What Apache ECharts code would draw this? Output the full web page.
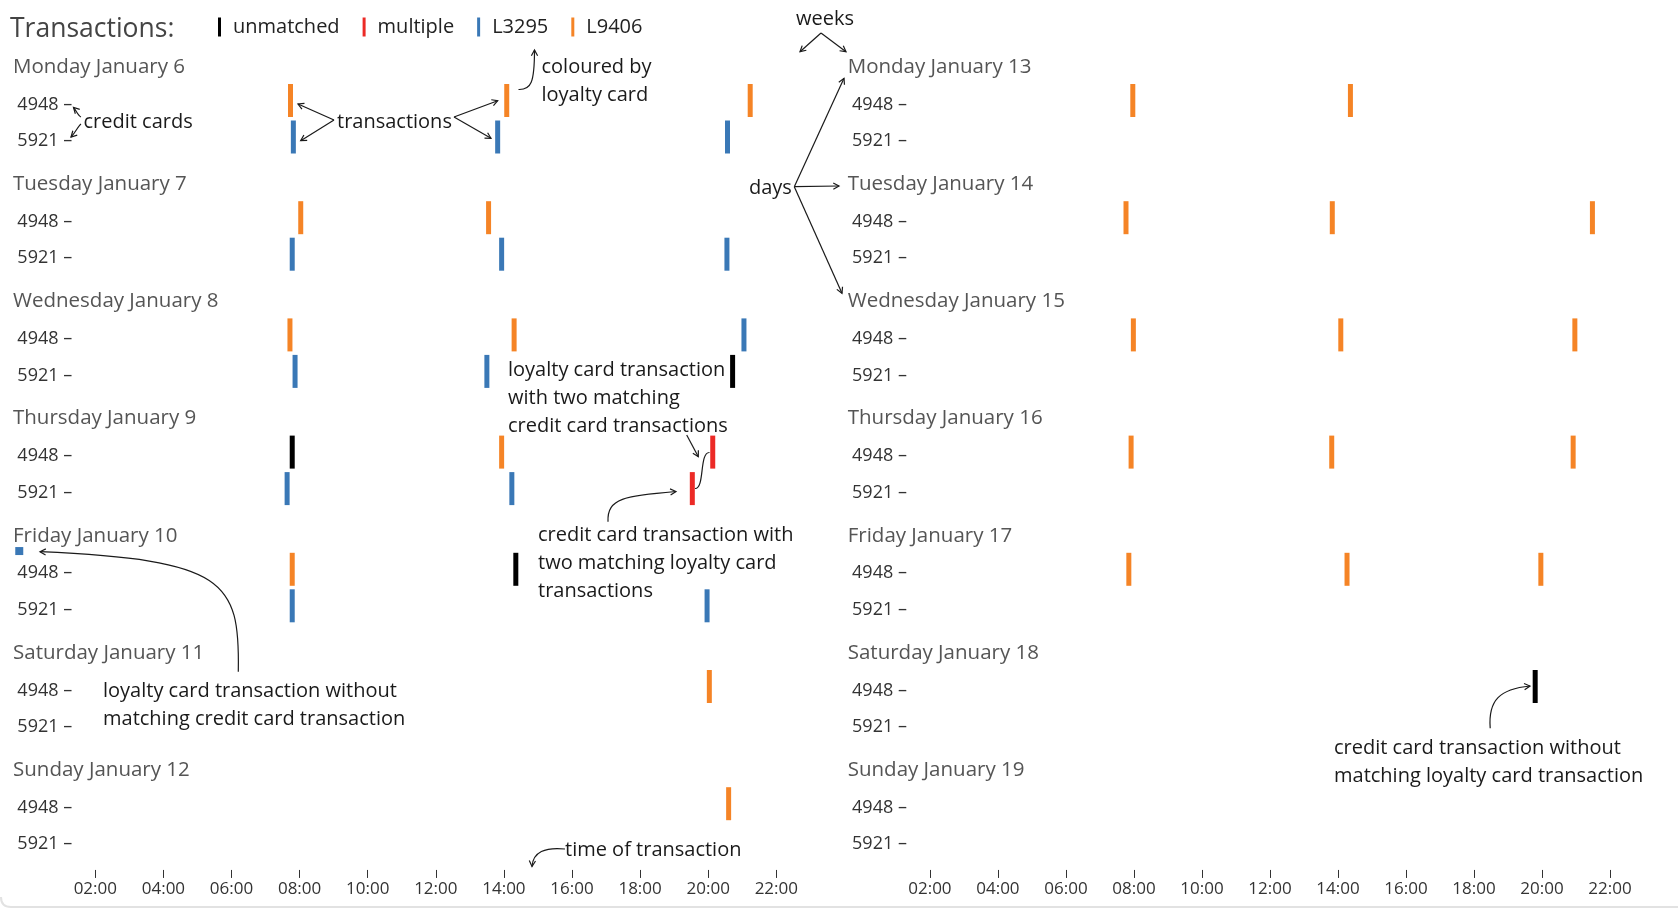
<!DOCTYPE html>
<html>
<head>
<meta charset="utf-8">
<script src="https://cdn.jsdelivr.net/npm/echarts@6/dist/echarts.min.js"></script>
<style>
  html, body { margin: 0; padding: 0; background: #ffffff; }
  #chart { width: 1678px; height: 910px; }
</style>
</head>
<body>
<div id="chart"></div>
<script>
// ---------------- data ----------------
const weekDays = [
  'Monday January 6', 'Tuesday January 7', 'Wednesday January 8', 'Thursday January 9',
  'Friday January 10', 'Saturday January 11', 'Sunday January 12',
  'Monday January 13', 'Tuesday January 14', 'Wednesday January 15', 'Thursday January 16',
  'Friday January 17', 'Saturday January 18', 'Sunday January 19'
];
const creditCards = ['4948', '5921'];
const timeTicks = ['02:00', '04:00', '06:00', '08:00', '10:00', '12:00', '14:00', '16:00', '18:00', '20:00', '22:00'];
const legendNames = ['unmatched', 'multiple', 'L3295', 'L9406'];

// credit card transactions matched with loyalty card L9406: [day, credit card, time]
const txL9406 = [
  ['Monday January 6', '4948', '07:44'], ['Monday January 6', '4948', '14:05'], ['Monday January 6', '4948', '21:14'],
  ['Tuesday January 7', '4948', '08:02'], ['Tuesday January 7', '4948', '13:33'],
  ['Wednesday January 8', '4948', '07:43'], ['Wednesday January 8', '4948', '14:18'],
  ['Thursday January 9', '4948', '13:56'],
  ['Friday January 10', '4948', '07:47'],
  ['Saturday January 11', '4948', '20:02'],
  ['Sunday January 12', '4948', '20:36'],
  ['Monday January 13', '4948', '07:58'], ['Monday January 13', '4948', '14:22'],
  ['Tuesday January 14', '4948', '07:46'], ['Tuesday January 14', '4948', '13:50'], ['Tuesday January 14', '4948', '21:29'],
  ['Wednesday January 15', '4948', '07:59'], ['Wednesday January 15', '4948', '14:05'], ['Wednesday January 15', '4948', '20:58'],
  ['Thursday January 16', '4948', '07:55'], ['Thursday January 16', '4948', '13:49'], ['Thursday January 16', '4948', '20:55'],
  ['Friday January 17', '4948', '07:51'], ['Friday January 17', '4948', '14:16'], ['Friday January 17', '4948', '19:58']
];
// credit card transactions matched with loyalty card L3295
const txL3295 = [
  ['Monday January 6', '5921', '07:49'], ['Monday January 6', '5921', '13:49'], ['Monday January 6', '5921', '20:34'],
  ['Tuesday January 7', '5921', '07:47'], ['Tuesday January 7', '5921', '13:56'], ['Tuesday January 7', '5921', '20:33'],
  ['Wednesday January 8', '4948', '21:03'], ['Wednesday January 8', '5921', '07:52'], ['Wednesday January 8', '5921', '13:30'],
  ['Thursday January 9', '5921', '07:38'], ['Thursday January 9', '5921', '14:14'],
  ['Friday January 10', '5921', '07:47'], ['Friday January 10', '5921', '19:58']
];
// credit card transactions without a loyalty card match
const txUnmatched = [
  ['Wednesday January 8', '5921', '20:43'], ['Thursday January 9', '4948', '07:47'],
  ['Friday January 10', '4948', '14:21'], ['Saturday January 18', '4948', '19:48']
];
// credit card transactions with multiple loyalty matches
const txMultiple = [
  ['Thursday January 9', '4948', '20:08'], ['Thursday January 9', '5921', '19:32']
];
// loyalty card transactions without a credit card match: [day, loyalty card, position on time axis]
const loyaltyOnly = [
  ['Friday January 10', 'L3295', '-00:14']
];

// ---------------- layout & style ----------------
const FONT = '"Open Sans", "Liberation Sans", sans-serif';
const ROW0 = 65, DAY_H = 117.2, PX_PER_H = 34.05;
const WEEK_LEFT = [27.2, 861.9];
const LABEL_SHIFT = 4;      // row labels sit slightly below the mark centres
const INK = '#1a1a1a';
const COLORS = { unmatched: '#000000', multiple: '#ec2a26', L3295: '#3a78b6', L9406: '#f58426' };

function toHours(s) {
  const neg = s.charAt(0) === '-';
  const [h, m] = s.replace('-', '').split(':').map(Number);
  return (neg ? -1 : 1) * (h + m / 60);
}
const tickHours = timeTicks.map(toHours);

const grids = [], xAxes = [], yAxes = [], series = [], graphics = [];

weekDays.forEach((day, i) => {
  const w = Math.floor(i / 7), d = i % 7;
  const hy = ROW0 + DAY_H * d;
  grids.push({ left: WEEK_LEFT[w], top: hy + 17.25 + LABEL_SHIFT, width: 24 * PX_PER_H, height: 73 });
  xAxes.push({
    type: 'value', gridIndex: i, min: 0, max: 24, interval: 2, position: 'bottom',
    show: d === 6, offset: 11.5 - LABEL_SHIFT,
    axisLine: { show: true, onZero: false, lineStyle: { color: 'rgba(0,0,0,0)', width: 0 } },
    splitLine: { show: false },
    axisTick: { show: true, inside: false, length: 8, customValues: tickHours, lineStyle: { color: '#333', width: 1 } },
    axisLabel: {
      customValues: tickHours, margin: 11, fontSize: 17, color: '#333', fontFamily: FONT,
      formatter: v => { const k = tickHours.indexOf(v); return k >= 0 ? timeTicks[k] : ''; }
    }
  });
  yAxes.push({
    type: 'value', gridIndex: i, min: -0.5, max: 1.5, interval: 0.5, inverse: true,
    axisLine: { show: false, onZero: false }, axisTick: { show: false }, splitLine: { show: false },
    axisLabel: {
      margin: -45, fontSize: 18, color: '#333', fontFamily: FONT, padding: [14, 0, 0, 0],
      formatter: v => (Number.isInteger(v) && creditCards[v]) ? creditCards[v] + ' \u2013' : ''
    }
  });
  graphics.push({
    type: 'text', x: WEEK_LEFT[w] - 14.2, y: hy + 2, silent: true,
    style: { text: day, font: '20.5px ' + FONT, fill: '#555', verticalAlign: 'middle', align: 'left' }
  });
});

const groups = [
  { name: 'unmatched', rows: txUnmatched },
  { name: 'multiple', rows: txMultiple },
  { name: 'L3295', rows: txL3295 },
  { name: 'L9406', rows: txL9406 }
];
groups.forEach(g => {
  weekDays.forEach((day, i) => {
    const pts = g.rows.filter(r => r[0] === day).map(r => [toHours(r[2]), creditCards.indexOf(r[1])]);
    if (!pts.length) return;
    series.push({
      type: 'scatter', name: g.name, xAxisIndex: i, yAxisIndex: i, data: pts,
      symbol: 'rect', symbolSize: [5, 33], symbolOffset: [0, -LABEL_SHIFT],
      itemStyle: { color: COLORS[g.name], opacity: 1 },
      emphasis: { disabled: true }
    });
  });
});
weekDays.forEach((day, i) => {
  const pts = loyaltyOnly.filter(r => r[0] === day).map(r => [toHours(r[2]), -0.5]);
  if (!pts.length) return;
  const card = loyaltyOnly.find(r => r[0] === day)[1];
  series.push({
    type: 'scatter', name: card, xAxisIndex: i, yAxisIndex: i, data: pts, clip: false,
    symbol: 'rect', symbolSize: [8, 8], symbolOffset: [0, -LABEL_SHIFT],
    itemStyle: { color: COLORS[card], opacity: 1 },
    emphasis: { disabled: true }
  });
});

// ---------------- annotations ----------------
function note(x, yFirst, lines) {
  return {
    type: 'text', x: x, y: yFirst - 14 + 1.5, silent: true,
    style: { text: lines.join('\n'), font: '20px ' + FONT, fill: INK, lineHeight: 28, verticalAlign: 'top', align: 'left' }
  };
}
function head(tx, ty, fx, fy) {
  const a = Math.atan2(ty - fy, tx - fx), s = 6.5, sp = 0.5;
  return {
    type: 'polyline', silent: true,
    shape: { points: [[tx - s * Math.cos(a - sp), ty - s * Math.sin(a - sp)], [tx, ty], [tx - s * Math.cos(a + sp), ty - s * Math.sin(a + sp)]] },
    style: { stroke: INK, lineWidth: 1.2, fill: null }
  };
}
function arrow(x1, y1, x2, y2) {
  return [{ type: 'line', silent: true, shape: { x1, y1, x2, y2 }, style: { stroke: INK, lineWidth: 1.2 } }, head(x2, y2, x1, y1)];
}
function curve(p0, c1, c2, p3, withHead) {
  const out = [{
    type: 'bezierCurve', silent: true,
    shape: { x1: p0[0], y1: p0[1], cpx1: c1[0], cpy1: c1[1], cpx2: c2[0], cpy2: c2[1], x2: p3[0], y2: p3[1] },
    style: { stroke: INK, lineWidth: 1.2, fill: null }
  }];
  if (withHead) out.push(head(p3[0], p3[1], c2[0], c2[1]));
  return out;
}

graphics.push(
  note(83.5, 120.5, ['credit cards']),
  note(337, 120.5, ['transactions']),
  note(541.5, 66, ['coloured by', 'loyalty card']),
  note(796, 18, ['weeks']),
  note(749, 186.5, ['days']),
  note(508, 368.3, ['loyalty card transaction', 'with two matching', 'credit card transactions']),
  note(538, 533.5, ['credit card transaction with', 'two matching loyalty card', 'transactions']),
  note(103, 689.5, ['loyalty card transaction without', 'matching credit card transaction']),
  note(565, 849, ['time of transaction']),
  note(1334, 747, ['credit card transaction without', 'matching loyalty card transaction']),
  ...curve([81, 117], [78, 116], [76, 110], [73.5, 107.5], true),
  ...curve([81, 124], [78, 126], [76, 132], [71, 137], true),
  ...arrow(334, 120, 298, 104), ...arrow(334, 120, 300.7, 140.7),
  ...arrow(454, 117, 497.7, 100.7), ...arrow(454, 117, 491, 138.3),
  ...curve([518.5, 89.5], [531, 90], [534.5, 83], [534.5, 50], true),
  ...arrow(821, 33, 800, 51.7), ...arrow(821, 33, 846, 51.7),
  ...arrow(794.3, 186.7, 844, 78.3), ...arrow(794.3, 186.7, 839, 186), ...arrow(794.3, 186.7, 842, 293.3),
  ...arrow(686.7, 435, 698.3, 456.7),
  ...curve([709.5, 452.5], [699, 452], [705, 489], [695, 488.5], false),
  ...curve([608, 521.7], [607, 498], [625, 496], [676, 491.5], true),
  ...curve([238.3, 671.7], [240, 580], [225, 560], [40, 551.7], true),
  ...curve([565, 849], [545, 847], [533, 852], [532, 866.5], true),
  ...curve([1490.2, 728.3], [1488, 700], [1500, 689], [1530, 686], true),
  // card frame (bottom edge)
  ...curve([1, 897], [1, 904], [4, 907], [11, 907], false).map(e => (e.style.stroke = '#e2e2e2', e.style.lineWidth = 2, e)),
  { type: 'line', silent: true, shape: { x1: 11, y1: 907, x2: 1678, y2: 907 }, style: { stroke: '#e2e2e2', lineWidth: 2 } }
);

const chart = echarts.init(document.getElementById('chart'), null, { renderer: 'canvas' });
chart.setOption({
  backgroundColor: '#ffffff',
  animation: false,
  title: {
    text: 'Transactions:', left: 10, top: 16, padding: 0,
    textStyle: { fontSize: 26.5, fontWeight: 'normal', color: '#444', fontFamily: FONT }
  },
  legend: {
    data: legendNames, left: 218, top: 17, padding: 0,
    icon: 'rect', itemWidth: 3, itemHeight: 19, itemGap: 23,
    textStyle: { fontSize: 20, color: '#222', fontFamily: FONT, padding: [0, 0, 0, 7] },
    selectedMode: false
  },
  grid: grids,
  xAxis: xAxes,
  yAxis: yAxes,
  series: series,
  graphic: { elements: graphics }
});
</script>
</body>
</html>
